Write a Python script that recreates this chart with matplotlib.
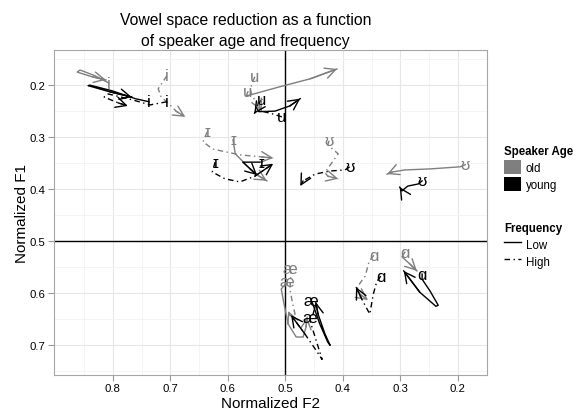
import matplotlib
matplotlib.use("Agg")
import matplotlib.pyplot as plt
from matplotlib.patches import Patch
from matplotlib.lines import Line2D

#######################################################
# formant trajectories (normalized F2, F1), first point = label position
AGES = ["old", "young"]
FREQS = ["Low", "High"]
VOWELS = ["i", "ɪ", "u", "ʊ", "æ", "ɑ"]

vowel_i = {
    ("old", "Low"): ([0.807, 0.831, 0.857, 0.862, 0.836, 0.812], [0.197, 0.183, 0.172, 0.176, 0.185, 0.191]),
    ("old", "High"): ([0.706, 0.721, 0.716, 0.706, 0.690, 0.674], [0.183, 0.208, 0.224, 0.233, 0.251, 0.262]),
    ("young", "Low"): ([0.737, 0.761, 0.801, 0.840, 0.843, 0.805, 0.767], [0.233, 0.227, 0.212, 0.201, 0.202, 0.214, 0.224]),
    ("young", "High"): ([0.706, 0.735, 0.767, 0.808, 0.815, 0.791, 0.774], [0.233, 0.239, 0.229, 0.218, 0.224, 0.235, 0.241]),
}
vowel_ih = {
    ("old", "Low"): ([0.591, 0.587, 0.570, 0.553, 0.532], [0.306, 0.333, 0.352, 0.371, 0.385]),
    ("old", "High"): ([0.636, 0.643, 0.626, 0.579, 0.541, 0.521], [0.291, 0.310, 0.324, 0.335, 0.339, 0.341]),
    ("young", "Low"): ([0.541, 0.574, 0.561, 0.549], [0.349, 0.349, 0.362, 0.374]),
    ("young", "High"): ([0.622, 0.627, 0.605, 0.579, 0.553, 0.521], [0.349, 0.368, 0.381, 0.387, 0.376, 0.352]),
}
vowel_u = {
    ("old", "Low"): ([0.565, 0.568, 0.509, 0.457, 0.410], [0.214, 0.222, 0.204, 0.189, 0.170]),
    ("old", "High"): ([0.553, 0.556, 0.561, 0.558, 0.547, 0.541], [0.185, 0.193, 0.208, 0.222, 0.237, 0.251]),
    ("young", "Low"): ([0.541, 0.551, 0.546, 0.518, 0.492, 0.474], [0.229, 0.243, 0.252, 0.251, 0.241, 0.227]),
    ("young", "High"): ([0.506, 0.523, 0.541, 0.551, 0.554], [0.262, 0.256, 0.251, 0.251, 0.256]),
}
vowel_uh = {
    ("old", "Low"): ([0.187, 0.196, 0.248, 0.292, 0.314, 0.323], [0.354, 0.358, 0.362, 0.364, 0.368, 0.372]),
    ("old", "High"): ([0.424, 0.426, 0.408, 0.417, 0.431, 0.426, 0.408], [0.308, 0.316, 0.333, 0.347, 0.369, 0.376, 0.381]),
    ("young", "Low"): ([0.262, 0.269, 0.287, 0.297, 0.301], [0.385, 0.391, 0.395, 0.404, 0.397]),
    ("young", "High"): ([0.388, 0.396, 0.422, 0.448, 0.469, 0.474], [0.358, 0.364, 0.366, 0.372, 0.385, 0.395]),
}
vowel_ae = {
    ("old", "Low"): ([0.497, 0.507, 0.501, 0.495, 0.481, 0.469, 0.464, 0.462], [0.579, 0.593, 0.628, 0.660, 0.685, 0.685, 0.666, 0.647]),
    ("old", "High"): ([0.492, 0.490, 0.492, 0.487, 0.481, 0.492, 0.495], [0.553, 0.562, 0.593, 0.622, 0.651, 0.643, 0.635]),
    ("young", "Low"): ([0.455, 0.452, 0.440, 0.426, 0.422, 0.431, 0.443, 0.447], [0.614, 0.622, 0.660, 0.695, 0.701, 0.679, 0.641, 0.618]),
    ("young", "High"): ([0.457, 0.457, 0.447, 0.436, 0.448, 0.466, 0.490], [0.647, 0.654, 0.689, 0.728, 0.708, 0.679, 0.643]),
}
vowel_a = {
    ("old", "Low"): ([0.292, 0.297, 0.283, 0.271], [0.522, 0.531, 0.545, 0.558]),
    ("old", "High"): ([0.346, 0.354, 0.361, 0.375, 0.370, 0.356], [0.528, 0.539, 0.568, 0.589, 0.603, 0.614]),
    ("young", "Low"): ([0.262, 0.262, 0.248, 0.234, 0.238, 0.266, 0.294], [0.564, 0.574, 0.597, 0.624, 0.626, 0.599, 0.558]),
    ("young", "High"): ([0.334, 0.341, 0.347, 0.353, 0.367, 0.377], [0.568, 0.579, 0.603, 0.641, 0.612, 0.589]),
}
TRAJECTORIES = [vowel_i, vowel_ih, vowel_u, vowel_uh, vowel_ae, vowel_a]

X_TICKS = [0.8, 0.7, 0.6, 0.5, 0.4, 0.3, 0.2]
Y_TICKS = [0.2, 0.3, 0.4, 0.5, 0.6, 0.7]
#######################################################

AGE_COLORS = {"old": "#7f7f7f", "young": "#000000"}
DASHDOT = (0, (4, 2.5, 1, 2.5))
FREQ_STYLES = {"Low": "-", "High": DASHDOT}

plt.rcParams["font.family"] = ["Liberation Sans", "DejaVu Sans"]

fig = plt.figure(figsize=(5.75, 4.1), dpi=100)
ax = fig.add_axes([0.0939, 0.0829, 0.8464 - 0.0939, 0.8763 - 0.0829])

# grid
ax.set_xticks([0.85, 0.75, 0.65, 0.55, 0.45, 0.35, 0.25, 0.15], minor=True)
ax.set_yticks([0.15, 0.25, 0.35, 0.45, 0.55, 0.65, 0.75], minor=True)
ax.set_xticks(X_TICKS)
ax.set_yticks(Y_TICKS)
ax.grid(True, which="major", color="#e6e6e6", lw=0.8)
ax.grid(True, which="minor", color="#f3f3f3", lw=0.6)
ax.set_axisbelow(True)
ax.tick_params(which="minor", length=0)
ax.tick_params(which="major", length=4, color="#999999", labelsize=8.2, pad=2)
for sp in ax.spines.values():
    sp.set_color("#a6a6a6")
    sp.set_linewidth(0.8)

ax.axvline(0.5, color="black", lw=1.0, zorder=1)
ax.axhline(0.5, color="black", lw=1.0, zorder=1)

for traj, vowel in zip(TRAJECTORIES, VOWELS):
    for age in AGES:
        for freq in FREQS:
            f2, f1 = traj[(age, freq)]
            c = AGE_COLORS[age]
            ax.plot(f2, f1, color=c, lw=1.0, linestyle=FREQ_STYLES[freq], zorder=2)
            ax.annotate("", xy=(f2[-1], f1[-1]), xytext=(f2[-2], f1[-2]),
                        arrowprops=dict(arrowstyle="->,head_length=0.75,head_width=0.38",
                                        color=c, lw=1.0, shrinkA=0, shrinkB=0), zorder=3)
            ax.text(f2[0], f1[0], vowel, color=c, fontsize=12, ha="center", va="center", zorder=4)

ax.set_xlim(0.9023, 0.1497)
ax.set_ylim(0.758, 0.133)
ax.set_xlabel("Normalized F2", fontsize=11, labelpad=2)
ax.set_ylabel("Normalized F1", fontsize=11, labelpad=0.5)

fig.text(0.4273, 1 - 31 / 410, "Vowel space reduction as a function\nof speaker age and frequency",
         ha="center", va="center", fontsize=11.3, linespacing=1.45)

age_handles = [Patch(facecolor=AGE_COLORS[a], edgecolor="none", label=a) for a in AGES]
leg1 = fig.legend(handles=age_handles, title="Speaker Age", loc="upper left",
                  bbox_to_anchor=(0.8765, 1 - 146 / 410), frameon=False, fontsize=8.3,
                  title_fontproperties={"weight": "bold", "size": 8.3}, alignment="left",
                  handlelength=1.5, handleheight=1.5, labelspacing=0.25, handletextpad=0.4,
                  borderpad=0, borderaxespad=0)
freq_handles = [Line2D([], [], color="black", lw=1.0, linestyle=FREQ_STYLES[f], label=f) for f in FREQS]
leg2 = fig.legend(handles=freq_handles, title="Frequency", loc="upper left",
                  bbox_to_anchor=(0.8765, 1 - 223 / 410), frameon=False, fontsize=8.3,
                  title_fontproperties={"weight": "bold", "size": 8.3}, alignment="left",
                  handlelength=1.5, handleheight=1.5, labelspacing=0.25, handletextpad=0.4,
                  borderpad=0, borderaxespad=0)

fig.savefig("out.png", dpi=100)
